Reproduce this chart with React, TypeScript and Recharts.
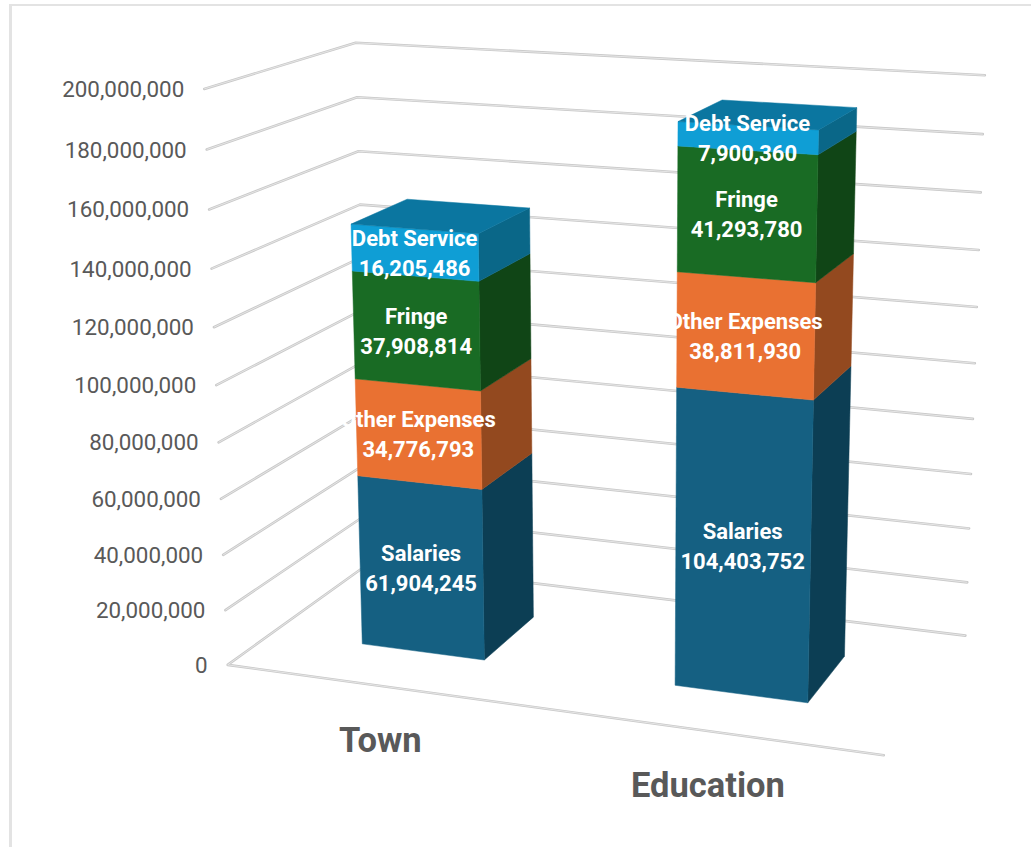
import { BarChart, Bar, XAxis, YAxis, CartesianGrid } from "recharts"

const categories = ["Town", "Education"]
const salaries = [61904245, 104403752]
const otherExpenses = [34776793, 38811930]
const fringe = [37908814, 41293780]
const debtService = [16205486, 7900360]
const yTicks = [0, 20000000, 40000000, 60000000, 80000000, 100000000, 120000000, 140000000, 160000000, 180000000, 200000000]

const data = categories.map((name, i) => ({
  name,
  Salaries: salaries[i],
  "Other Expenses": otherExpenses[i],
  Fringe: fringe[i],
  "Debt Service": debtService[i],
}))

// plot box recharts works in; everything gets projected out of this flat box
const CHART_W = 1031
const CHART_H = 847
const LEFT = 100
const TOP = 100
const PLOT_W = 800
const PLOT_H = 600
const AXIS_Y_W = 60
const AXIS_X_H = 40

const FONT = "Roboto, sans-serif"

// bar depth inside the floor (0 = front, 1 = back wall)
const BAR_W0 = 0.3
const BAR_W1 = 0.7

// box corners (across, up, depth) and where they land on the page
const anchors = [
  [0, 0, 0, 227, 666],
  [0, 0.5, 0, 216, 385],
  [0, 1, 0, 205, 89],
  [1, 0, 0, 884, 754],
  [0, 0, 1, 370, 562],
  [0, 1, 1, 355, 43],
  [1, 1, 1, 985, 75],
  [1, 0, 1, 965, 637],
]

// least squares fit of the camera matrix
function solveCamera() {
  const rows: number[][] = []
  const rhs: number[] = []
  anchors.forEach(([u, v, w, px, py]) => {
    const x = px / 1000
    const y = py / 1000
    rows.push([u, v, w, 1, 0, 0, 0, 0, -x * u, -x * v, -x * w])
    rhs.push(x)
    rows.push([0, 0, 0, 0, u, v, w, 1, -y * u, -y * v, -y * w])
    rhs.push(y)
  })
  const n = 11
  const m: number[][] = []
  for (let i = 0; i < n; i++) {
    const r: number[] = []
    for (let j = 0; j < n; j++) {
      let s = 0
      rows.forEach((row) => (s += row[i] * row[j]))
      r.push(s)
    }
    let b = 0
    rows.forEach((row, k) => (b += row[i] * rhs[k]))
    r.push(b)
    m.push(r)
  }
  for (let c = 0; c < n; c++) {
    let p = c
    for (let r = c + 1; r < n; r++) if (Math.abs(m[r][c]) > Math.abs(m[p][c])) p = r
    const t = m[c]
    m[c] = m[p]
    m[p] = t
    for (let r = 0; r < n; r++) {
      if (r === c) continue
      const f = m[r][c] / m[c][c]
      for (let k = c; k <= n; k++) m[r][k] -= f * m[c][k]
    }
  }
  return m.map((r, i) => r[n] / r[i])
}

const cam = solveCamera()

function project(u: number, v: number, w: number) {
  const d = cam[8] * u + cam[9] * v + cam[10] * w + 1
  return {
    x: (1000 * (cam[0] * u + cam[1] * v + cam[2] * w + cam[3])) / d,
    y: (1000 * (cam[4] * u + cam[5] * v + cam[6] * w + cam[7])) / d,
  }
}

const toU = (x: number) => (x - LEFT) / PLOT_W
const toV = (y: number) => (TOP + PLOT_H - y) / PLOT_H

function pts(list: number[][]) {
  return list
    .map(([u, v, w]) => {
      const p = project(u, v, w)
      return `${p.x},${p.y}`
    })
    .join(" ")
}

function WallLine(props: any) {
  const v = toV(props.y1)
  const line =
    v < 0.001
      ? [[1, 0, 0], [0, 0, 0], [0, 0, 1], [1, 0, 1]]
      : [[0, v, 0], [0, v, 1], [1, v, 1]]
  return (
    <g>
      <polyline points={pts(line)} fill="none" stroke="#c9c9c9" strokeWidth={2.6} strokeLinejoin="round" strokeLinecap="round" />
      <polyline points={pts(line)} fill="none" stroke="#ececec" strokeWidth={0.8} />
    </g>
  )
}

function YTick(props: any) {
  const p = project(0, toV(props.y), 0)
  return (
    <text x={p.x - 20} y={p.y + 8} textAnchor="end" fontFamily={FONT} fontSize={22.4} fill="#595959">
      {Number(props.payload.value).toLocaleString("en-US")}
    </text>
  )
}

function XTick(props: any) {
  const p = project(toU(props.x), 0, 0)
  return (
    <text x={p.x - 1} y={p.y + 65.5} textAnchor="middle" fontFamily={FONT} fontWeight={700} fontSize={34.5} fill="#595959">
      {props.payload.value}
    </text>
  )
}

function Block(props: any) {
  const { x, y, width, height, front, side, top, label, value } = props
  const u0 = toU(x)
  const u1 = toU(x + width)
  const v1 = toV(y)
  const v0 = toV(y + height)
  const c = project((u0 + u1) / 2, (v0 + v1) / 2, BAR_W0)
  return (
    <g>
      <polygon points={pts([[u1, v0, BAR_W0], [u1, v0, BAR_W1], [u1, v1, BAR_W1], [u1, v1, BAR_W0]])} fill={side} stroke={side} strokeWidth={0.5} />
      <polygon points={pts([[u0, v0, BAR_W0], [u1, v0, BAR_W0], [u1, v1, BAR_W0], [u0, v1, BAR_W0]])} fill={front} stroke={front} strokeWidth={0.5} />
      {top && (
        <polygon points={pts([[u0, v1, BAR_W0], [u1, v1, BAR_W0], [u1, v1, BAR_W1], [u0, v1, BAR_W1]])} fill={top} stroke={top} strokeWidth={0.5} />
      )}
      <text x={c.x} y={c.y - 7} textAnchor="middle" fontFamily={FONT} fontWeight={700} fontSize={22} fill="#ffffff">
        {label}
      </text>
      <text x={c.x} y={c.y + 23} textAnchor="middle" fontFamily={FONT} fontWeight={700} fontSize={22} fill="#ffffff">
        {Number(value).toLocaleString("en-US")}
      </text>
    </g>
  )
}

function barValue(p: any) {
  return Array.isArray(p.value) ? p.value[1] - p.value[0] : p.value
}

export default function App() {
  return (
    <div style={{ position: "absolute", left: 0, top: 0, width: CHART_W, height: CHART_H, background: "#fff" }}>
      <div style={{ position: "absolute", left: 9, top: 4, right: 0, bottom: 0, borderLeft: "3px solid #e3e3e3", borderTop: "2.5px solid #e3e3e3" }} />
      <BarChart
        width={CHART_W}
        height={CHART_H}
        data={data}
        margin={{ top: TOP, left: LEFT - AXIS_Y_W, right: CHART_W - LEFT - PLOT_W, bottom: CHART_H - TOP - PLOT_H - AXIS_X_H }}
        barCategoryGap="30%"
        style={{ position: "absolute", left: 0, top: 0 }}
      >
        <CartesianGrid vertical={false} horizontal={(p: any) => <WallLine key={p.key} {...p} />} />
        <XAxis dataKey="name" height={AXIS_X_H} axisLine={false} tickLine={false} interval={0} tick={<XTick />} />
        <YAxis width={AXIS_Y_W} domain={[0, 200000000]} ticks={yTicks} axisLine={false} tickLine={false} interval={0} tick={<YTick />} />
        <Bar dataKey="Salaries" stackId="a" isAnimationActive={false}
          shape={(p: any) => <Block {...p} value={barValue(p)} label="Salaries" front="#156082" side="#0c3e54" />} />
        <Bar dataKey="Other Expenses" stackId="a" isAnimationActive={false}
          shape={(p: any) => <Block {...p} value={barValue(p)} label="Other Expenses" front="#e97132" side="#93491f" />} />
        <Bar dataKey="Fringe" stackId="a" isAnimationActive={false}
          shape={(p: any) => <Block {...p} value={barValue(p)} label="Fringe" front="#196b24" side="#104516" />} />
        <Bar dataKey="Debt Service" stackId="a" isAnimationActive={false}
          shape={(p: any) => <Block {...p} value={barValue(p)} label="Debt Service" front="#0f9ed5" side="#0a6788" top="#0b76a0" />} />
      </BarChart>
    </div>
  )
}
